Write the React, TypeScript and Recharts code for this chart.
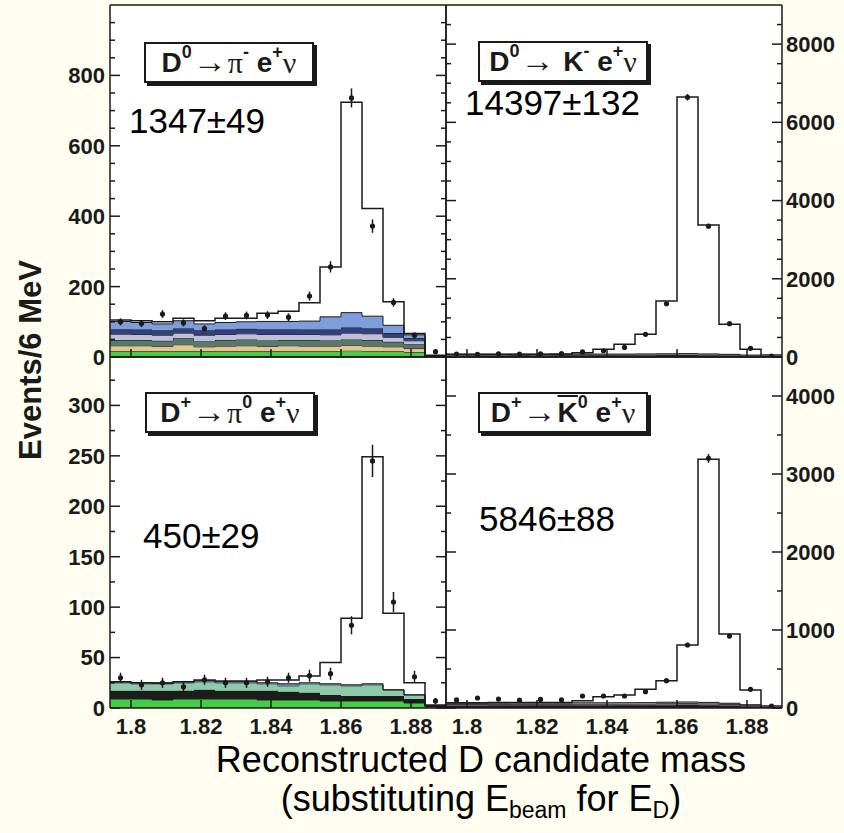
import React from 'react';
import { ComposedChart, Area, Line, Scatter, ErrorBar, XAxis, YAxis } from 'recharts';

// 16 bins of 6 MeV
const binEdges = [1.794, 1.8, 1.806, 1.812, 1.818, 1.824, 1.83, 1.836, 1.842, 1.848, 1.854, 1.86, 1.866, 1.872, 1.878, 1.884, 1.89];
const binCenters = [1.797, 1.803, 1.809, 1.815, 1.821, 1.827, 1.833, 1.839, 1.845, 1.851, 1.857, 1.863, 1.869, 1.875, 1.881, 1.887];
const xTicks = [1.8, 1.82, 1.84, 1.86, 1.88];

// D0 -> pi- e+ nu
const piTotal = [105, 103, 100, 110, 103, 110, 110, 124, 130, 154, 256, 724, 422, 157, 67, 5];
const piData = [100, 95, 122, 97, 81, 116, 118, 119, 113, 173, 256, 736, 372, 155, 62, 15];
const piErr = [10, 10, 11, 10, 9, 11, 11, 11, 11, 13, 16, 27, 19, 12, 8, 4];
const piGreen = [17, 17, 16, 17, 17, 16, 17, 16, 17, 16, 17, 18, 17, 16, 14, 1];
const piTan = [15, 15, 14, 18, 12, 15, 15, 14, 15, 15, 14, 15, 14, 13, 10, 1];
const piTeal = [16, 16, 16, 18, 16, 17, 18, 17, 16, 17, 16, 17, 17, 14, 12, 0];
const piLavender = [17, 16, 16, 15, 17, 16, 16, 17, 16, 16, 16, 18, 18, 13, 10, 0];
const piNavy = [14, 14, 14, 13, 14, 14, 14, 15, 15, 14, 15, 16, 16, 12, 8, 0];
const piBlue = [22, 20, 18, 22, 18, 20, 20, 22, 22, 24, 36, 42, 34, 22, 9, 0];

// D0 -> K- e+ nu
const kTotal = [70, 70, 70, 72, 72, 75, 110, 196, 324, 579, 1430, 6650, 3372, 835, 196, 50];
const kData = [75, 70, 80, 72, 78, 85, 130, 160, 245, 579, 1362, 6641, 3346, 851, 221, 25];
const kErr = [9, 9, 9, 9, 9, 10, 11, 13, 16, 24, 37, 82, 58, 29, 15, 5];
const kDark = [40, 38, 40, 42, 40, 42, 44, 42, 44, 46, 48, 50, 46, 40, 30, 5];
const kGrey = [28, 30, 28, 28, 30, 28, 30, 32, 30, 32, 34, 36, 32, 28, 20, 3];

// D+ -> pi0 e+ nu
const pi0Total = [26, 25, 24.5, 26, 27.7, 26.7, 26.7, 27.7, 27.7, 31.7, 45, 89, 249, 94, 25, 3];
const pi0Data = [30, 23, 25, 21, 28, 25, 25, 26, 30, 32, 34, 82, 245, 105, 31, 7];
const pi0Err = [5, 5, 5, 5, 5, 5, 5, 5, 5, 6, 6, 9, 16, 10, 6, 3];
const pi0Green = [9, 9, 8, 9, 9, 9, 9, 8, 8, 8, 7, 7, 7, 7, 5, 1];
const pi0Black = [8, 8, 9, 8, 9, 8, 8, 9, 8, 7, 6, 5, 5, 5, 4, 1];
const pi0Teal = [8, 7, 7, 8, 8, 8, 8, 7, 6, 9, 10, 10, 11, 6, 4, 0];
const pi0Blue = [1, 1, 1, 1, 1, 1, 1, 1, 2, 1, 1, 1, 1, 0, 0, 0];

// D+ -> K0bar e+ nu
const k0Total = [68, 68, 70, 70, 72, 72, 94, 145, 167, 239, 350, 808, 3188, 949, 231, 25];
const k0Data = [103, 128, 115, 100, 110, 105, 154, 154, 154, 209, 350, 808, 3201, 923, 239, 25];
const k0Err = [10, 11, 11, 10, 11, 10, 12, 12, 12, 14, 19, 28, 57, 30, 15, 5];
const k0Black = [30, 30, 31, 31, 32, 32, 33, 33, 34, 34, 36, 38, 36, 30, 20, 4];
const k0Grey = [20, 20, 20, 21, 20, 20, 21, 21, 21, 22, 24, 25, 23, 20, 14, 2];
const k0Light = [12, 12, 12, 12, 12, 12, 13, 13, 13, 13, 14, 14, 13, 11, 8, 2];

// axis ticks
const piMajor = [0, 200, 400, 600, 800];
const piMinor = [50, 100, 150, 250, 300, 350, 450, 500, 550, 650, 700, 750, 850, 900, 950];
const kMajor = [0, 2000, 4000, 6000, 8000];
const kMinor = [500, 1000, 1500, 2500, 3000, 3500, 4500, 5000, 5500, 6500, 7000, 7500, 8500];
const pi0Major = [0, 50, 100, 150, 200, 250, 300];
const pi0Minor = [25, 75, 125, 175, 225, 275, 325];
const k0Major = [0, 1000, 2000, 3000, 4000];
const k0Minor = [500, 1500, 2500, 3500];

const FONT = '"Liberation Sans", Arial, Helvetica, sans-serif';
const SERIF = '"Liberation Serif", "Times New Roman", serif';
const INK = '#1a1a1a';

function buildRows(layers: number[][], total: number[]) {
  return binEdges.map((m, i) => {
    const k = Math.min(i, total.length - 1);
    const row: any = { m, tot: total[k] };
    layers.forEach((l, j) => { row['b' + j] = l[k]; });
    return row;
  });
}

function buildPoints(vals: number[], errs: number[]) {
  return binCenters.map((m, i) => ({ m, y: vals[i], e: errs[i] }));
}

const yTick = (side: 'left' | 'right', majors: number[], labels: boolean) => (props: any) => {
  const { x, y, payload } = props;
  const v = payload.value;
  const major = majors.includes(v);
  const len = major ? 10 : 5;
  const dir = side === 'left' ? 1 : -1;
  return (
    <g>
      <line x1={x} y1={y} x2={x + dir * len} y2={y} stroke={INK} strokeWidth={1.5} />
      {major && labels && (
        <text x={side === 'left' ? x - 5 : x + 4} y={y} dy="0.36em" textAnchor={side === 'left' ? 'end' : 'start'}
          fontFamily={FONT} fontWeight="bold" fontSize={22} fill={INK}>{v}</text>
      )}
    </g>
  );
};

const xTick = (labels: boolean) => (props: any) => {
  const { x, y, payload } = props;
  return (
    <g>
      <line x1={x} y1={y} x2={x} y2={y - 8} stroke={INK} strokeWidth={1.5} />
      {labels && (
        <text x={x} y={y + 9} dy="0.76em" textAnchor="middle" fontFamily={FONT} fontWeight="bold" fontSize={22} fill={INK}>
          {String(payload.value)}
        </text>
      )}
    </g>
  );
};

const dot = (props: any) => <circle cx={props.cx} cy={props.cy} r={2.6} fill={INK} />;

interface PanelProps {
  px: number; py: number; w: number; h: number;
  pad: { t: number; r: number; b: number; l: number };
  yMax: number;
  layers: number[][];
  colors: string[];
  total: number[];
  vals: number[];
  errs: number[];
  majors: number[];
  minors: number[];
  labelSide: 'left' | 'right';
  xLabels: boolean;
}

function Panel(p: PanelProps) {
  const rows = buildRows(p.layers, p.total);
  const pts = buildPoints(p.vals, p.errs);
  const ticks = [...p.majors, ...p.minors].sort((a, b) => a - b);
  // axes are 1px thick (Recharts skips zero-sized axes), so margins are 1px less than the pads
  return (
    <div style={{ position: 'absolute', left: p.px - p.pad.l, top: p.py - p.pad.t }}>
      <ComposedChart width={p.pad.l + p.w + p.pad.r} height={p.pad.t + p.h + p.pad.b} data={rows}
        margin={{ top: p.pad.t - 1, right: p.pad.r - 1, bottom: p.pad.b - 1, left: p.pad.l - 1 }}>
        <XAxis xAxisId="b" dataKey="m" type="number" domain={[1.794, 1.89]} allowDataOverflow ticks={xTicks}
          height={1} tickSize={0} tickMargin={0} tickLine={false} tick={xTick(p.xLabels)}
          axisLine={{ stroke: INK, strokeWidth: 1.5 }} interval={0} />
        <XAxis xAxisId="t" orientation="top" dataKey="m" type="number" domain={[1.794, 1.89]} allowDataOverflow
          ticks={xTicks} height={1} tick={false} tickLine={false} axisLine={{ stroke: INK, strokeWidth: 1.5 }} />
        <YAxis yAxisId="l" type="number" domain={[0, p.yMax]} allowDataOverflow ticks={ticks} interval={0}
          width={1} tickSize={0} tickMargin={0} tickLine={false} tick={yTick('left', p.majors, p.labelSide === 'left')}
          axisLine={{ stroke: INK, strokeWidth: 1.5 }} />
        <YAxis yAxisId="r" orientation="right" type="number" domain={[0, p.yMax]} allowDataOverflow ticks={ticks} interval={0}
          width={1} tickSize={0} tickMargin={0} tickLine={false} tick={yTick('right', p.majors, p.labelSide === 'right')}
          axisLine={{ stroke: INK, strokeWidth: 1.5 }} />
        {p.layers.map((_, j) => (
          <Area key={j} xAxisId="b" yAxisId="l" type="stepAfter" dataKey={'b' + j} stackId="bg"
            fill={p.colors[j]} fillOpacity={1} stroke={INK} strokeWidth={1} isAnimationActive={false} />
        ))}
        <Line xAxisId="b" yAxisId="l" type="stepAfter" dataKey="tot" stroke={INK} strokeWidth={1.5}
          dot={false} isAnimationActive={false} />
        <Scatter xAxisId="b" yAxisId="l" data={pts} dataKey="y" shape={dot} isAnimationActive={false}>
          <ErrorBar dataKey="e" direction="y" width={0} stroke={INK} strokeWidth={1.5} />
        </Scatter>
      </ComposedChart>
    </div>
  );
}

const boxStyle = (left: number, top: number): React.CSSProperties => ({
  position: 'absolute', left, top, width: 166, height: 37,
  border: `2px solid ${INK}`, background: '#fff', boxShadow: `3px 3px 0 ${INK}`,
  display: 'flex', alignItems: 'center', justifyContent: 'center',
  fontFamily: FONT, fontWeight: 'bold', fontSize: 28, color: INK, lineHeight: 1, whiteSpace: 'nowrap',
});
const supS: React.CSSProperties = { fontSize: 18, position: 'relative', top: -11 };
const arrowS: React.CSSProperties = { fontFamily: SERIF, fontWeight: 'normal', fontSize: 34, margin: '0 1px', position: 'relative', top: -1 };
const greekS: React.CSSProperties = { fontFamily: SERIF, fontWeight: 'normal', fontSize: 30 };

const yieldStyle = (left: number, top: number): React.CSSProperties => ({
  position: 'absolute', left, top, fontFamily: FONT, fontSize: 35, lineHeight: 1, color: '#000', whiteSpace: 'nowrap',
});

const titleLine = (top: number): React.CSSProperties => ({
  position: 'absolute', left: 181, top, width: 600, height: 26, textAlign: 'center', fontFamily: FONT,
  fontSize: 36, lineHeight: '26px', color: '#000', whiteSpace: 'nowrap',
});
const subS: React.CSSProperties = { fontSize: 23, lineHeight: 0, verticalAlign: 'baseline', position: 'relative', top: 7 };

export default function App() {
  return (
    <div style={{ position: 'absolute', left: 0, top: 0, width: 844, height: 833, background: '#fffef0', overflow: 'hidden' }}>
      <div style={{ position: 'absolute', left: 110, top: 5, width: 672, height: 703, background: '#fff' }} />
      <Panel px={110} py={5} w={336} h={352} pad={{ t: 4, r: 4, b: 14, l: 110 }} yMax={1000}
        layers={[piGreen, piTan, piTeal, piLavender, piNavy, piBlue]}
        colors={['#4cc94c', '#e6c48e', '#56796b', '#bfbfd8', '#34407e', '#7d9ddb']}
        total={piTotal} vals={piData} errs={piErr} majors={piMajor} minors={piMinor} labelSide="left" xLabels={false} />
      <Panel px={446} py={5} w={336} h={352} pad={{ t: 4, r: 62, b: 14, l: 4 }} yMax={9000}
        layers={[kDark, kGrey]} colors={['#333333', '#8a8a8a']}
        total={kTotal} vals={kData} errs={kErr} majors={kMajor} minors={kMinor} labelSide="right" xLabels={false} />
      <Panel px={110} py={357} w={336} h={351} pad={{ t: 4, r: 4, b: 40, l: 110 }} yMax={348}
        layers={[pi0Green, pi0Black, pi0Teal, pi0Blue]} colors={['#45cc45', '#1c1c1c', '#8ccaa8', '#6f8fcf']}
        total={pi0Total} vals={pi0Data} errs={pi0Err} majors={pi0Major} minors={pi0Minor} labelSide="left" xLabels={true} />
      <Panel px={446} py={357} w={336} h={351} pad={{ t: 4, r: 62, b: 40, l: 4 }} yMax={4500}
        layers={[k0Black, k0Grey, k0Light]} colors={['#1e1e1e', '#6d6d6d', '#b5b5b5']}
        total={k0Total} vals={k0Data} errs={k0Err} majors={k0Major} minors={k0Minor} labelSide="right" xLabels={true} />

      <div style={boxStyle(144, 42)}>
        D<span style={supS}>0</span><span style={arrowS}>→</span><span style={greekS}>π</span><span style={supS}>-</span>&nbsp;e<span style={supS}>+</span><span style={greekS}>ν</span>
      </div>
      <div style={boxStyle(478, 41)}>
        D<span style={supS}>0</span><span style={arrowS}>→</span>&nbsp;K<span style={supS}>-</span>&nbsp;e<span style={supS}>+</span><span style={greekS}>ν</span>
      </div>
      <div style={boxStyle(145, 392)}>
        D<span style={supS}>+</span><span style={arrowS}>→</span><span style={greekS}>π</span><span style={supS}>0</span>&nbsp;e<span style={supS}>+</span><span style={greekS}>ν</span>
      </div>
      <div style={boxStyle(478, 392)}>
        D<span style={supS}>+</span><span style={arrowS}>→</span><span style={{ textDecoration: 'overline' }}>K</span><span style={supS}>0</span>&nbsp;e<span style={supS}>+</span><span style={greekS}>ν</span>
      </div>

      <div style={yieldStyle(129, 103)}>1347±49</div>
      <div style={yieldStyle(465, 85)}>14397±132</div>
      <div style={yieldStyle(143, 518)}>450±29</div>
      <div style={yieldStyle(479, 501)}>5846±88</div>

      <div style={{ position: 'absolute', left: 30, top: 360, transform: 'translate(-50%, -50%) rotate(-90deg)',
        fontFamily: FONT, fontWeight: 'bold', fontSize: 31, color: INK, whiteSpace: 'nowrap', lineHeight: 1 }}>
        Events/6 MeV
      </div>

      <div style={titleLine(747)}>Reconstructed D candidate mass</div>
      <div style={titleLine(786)}>
        (substituting E<sub style={subS}>beam</sub> for E<sub style={subS}>D</sub>)
      </div>
    </div>
  );
}
